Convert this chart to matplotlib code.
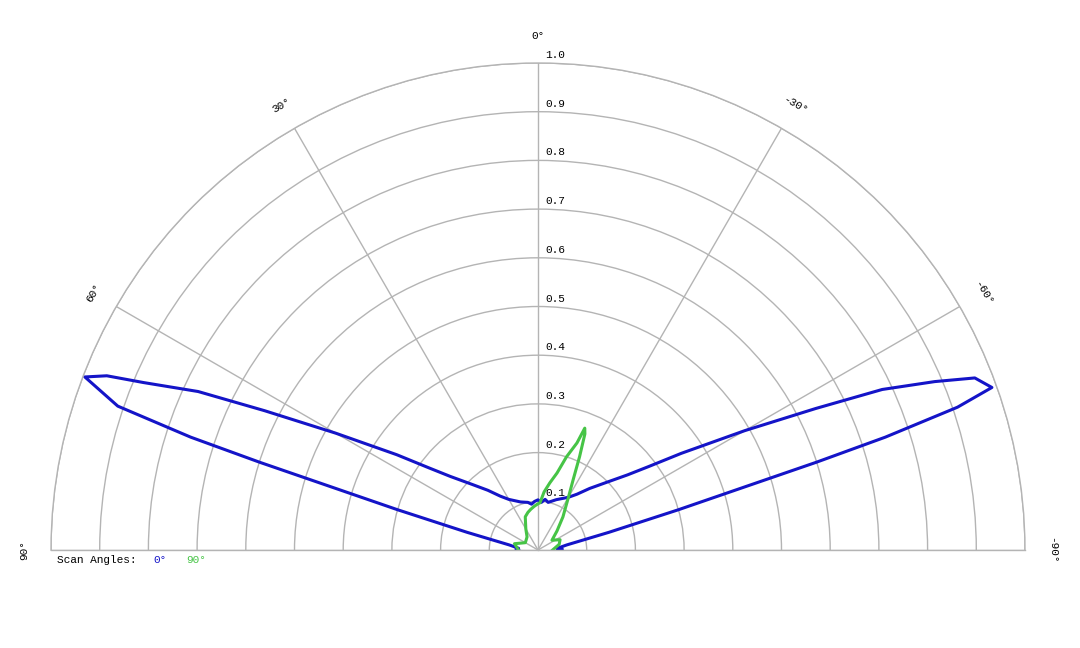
import numpy as np
import matplotlib.pyplot as plt

# beam pattern, scan angle 0 deg (angles in degrees, positive = left)
blue_ang = [90, 88, 85, 80, 76, 74, 73, 72.5, 72, 71.1, 69.1, 68, 67, 65, 63, 60, 56, 53, 50, 45, 40, 35, 30, 20, 12, 8, 4, 0,
            -4, -8, -12, -20, -30, -35, -40, -45, -50, -53, -56, -60, -63, -65, -67, -68.5, -70.3, -71.2, -72, -72.5, -73, -74, -76, -80, -85, -88, -90]
blue_r = [0.04, 0.045, 0.04, 0.06, 0.15, 0.30, 0.45, 0.60, 0.75, 0.912, 0.996, 0.955, 0.88, 0.77, 0.63, 0.48, 0.35, 0.28, 0.235, 0.19, 0.16, 0.135, 0.12, 0.105, 0.10, 0.095, 0.10, 0.103,
          0.098, 0.105, 0.10, 0.11, 0.125, 0.14, 0.165, 0.195, 0.24, 0.285, 0.355, 0.49, 0.64, 0.78, 0.885, 0.964, 0.99, 0.91, 0.75, 0.60, 0.45, 0.30, 0.15, 0.06, 0.04, 0.05, 0.04]

# beam pattern, scan angle 90 deg
green_ang = [90, 75, 60, 40, 30, 21, 15, 10, 5, 0, -2.4, -6, -10, -13.9, -17, -20, -21, -22, -24, -26.6, -30, -37, -45, -55, -65, -75, -90]
green_r = [0.04, 0.05, 0.03, 0.035, 0.05, 0.073, 0.08, 0.085, 0.09, 0.095, 0.097, 0.12, 0.14, 0.163, 0.2, 0.234, 0.268, 0.257, 0.21, 0.161, 0.125, 0.085, 0.055, 0.035, 0.05, 0.045, 0.03]

rings = np.round(np.arange(0.1, 1.01, 0.1), 1)
spokes = [-90, -60, -30, 0, 30, 60, 90]

blue = '#1414c8'
green = '#46c446'
grey = '#b4b4b4'
mono = 'Liberation Mono'

fig = plt.figure(figsize=(10.8, 6.48), dpi=100)
# the half disc is centred in the axes box and sized by half the box height
ax = fig.add_axes([51 / 1080, -145.5 / 648, 974 / 1080, 974 / 648], projection='polar')
ax.set_theta_zero_location('N')
ax.set_theta_direction(1)
ax.set_thetamin(-90)
ax.set_thetamax(90)
ax.set_ylim(0, 1.0)

ax.set_thetagrids(spokes, labels=[''] * len(spokes))
ax.set_rgrids(rings, labels=[''] * len(rings))
ax.grid(True, color=grey, linewidth=1)
for s in ax.spines.values():
    s.set_color(grey)
    s.set_linewidth(1)
ax.tick_params(length=0)

ax.plot(np.radians(blue_ang), blue_r, color=blue, linewidth=2.2)
ax.plot(np.radians(green_ang), green_r, color=green, linewidth=2.2)

for r in rings:
    ax.annotate(f'{r:.1f}', xy=(0, r), xytext=(7, 3), textcoords='offset pixels',
                ha='left', va='bottom', fontsize=8, family=mono)

for a in spokes:
    ax.text(np.radians(a), 1.055, f'{a}°', ha='center', va='center',
            rotation=a, rotation_mode='anchor', fontsize=8, family=mono, clip_on=False)

fig.text(57 / 1080, 1 - 560 / 648, 'Scan Angles:', ha='left', va='center', fontsize=8, family=mono)
fig.text(153 / 1080, 1 - 560 / 648, '0°', ha='left', va='center', fontsize=8, family=mono, color=blue)
fig.text(186 / 1080, 1 - 560 / 648, '90°', ha='left', va='center', fontsize=8, family=mono, color=green)

fig.savefig('out.png', dpi=100)
